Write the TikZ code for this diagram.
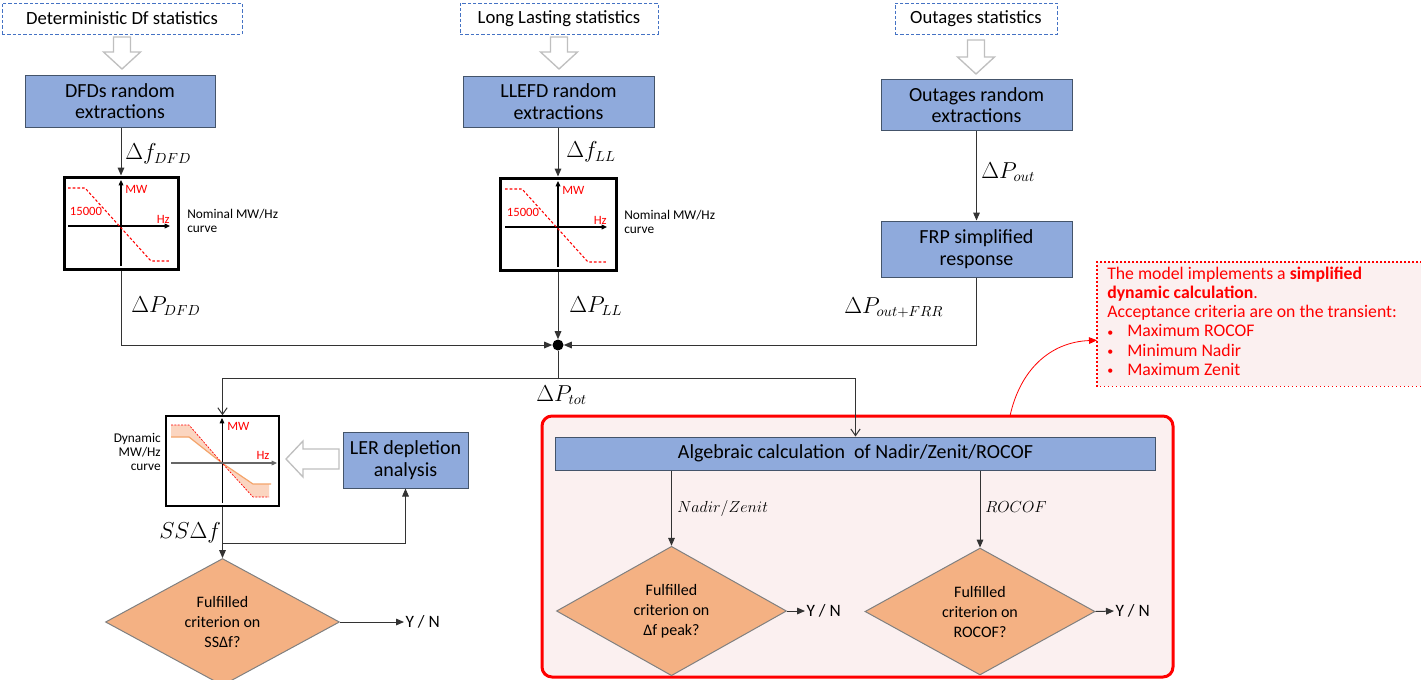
\documentclass[tikz,border=0pt]{standalone}
\usepackage{fontspec}
\setmainfont{Carlito}
\usetikzlibrary{arrows.meta,shapes.geometric,calc}
\definecolor{boxblue}{HTML}{8FAADC}
\definecolor{boxedge}{HTML}{44546A}
\definecolor{dsblue}{HTML}{4472C4}
\definecolor{diafill}{HTML}{F4B183}
\definecolor{diaedge}{HTML}{808080}
\definecolor{pinkfill}{HTML}{FBF0F0}
\definecolor{pured}{HTML}{FF0000}
\definecolor{bandfill}{HTML}{FBD5C0}
\definecolor{bandline}{HTML}{F4A46A}
\definecolor{hollowgray}{HTML}{BFBFBF}
\newcommand\hdown[3]{\draw[hollow] (#1-8.5,#2) -- (#1+8.5,#2) -- (#1+8.5,#3-17) -- (#1+18.5,#3-17) -- (#1,#3) -- (#1-18.5,#3-17) -- (#1-8.5,#3-17) -- cycle;}
\newcommand\smbul{\makebox[15pt][l]{\fontsize{9}{9}\selectfont\raisebox{0.5pt}{•}}}
\tikzset{
 dsbox/.style={draw=dsblue, dash pattern=on 2.5pt off 1.5pt, line width=0.75pt, fill=white, minimum height=31*.75pt, font=\fontsize{14}{16}\selectfont, inner sep=0pt},
 bluebox/.style={draw=boxedge, fill=boxblue, line width=0.75pt, align=center, font=\fontsize{15}{16.3}\selectfont, inner sep=0pt},
 curvebox/.style={draw=black, line width=2.25pt, fill=white, inner sep=0pt},
 thincurvebox/.style={draw=black, line width=1.1pt, fill=white, inner sep=0pt},
 dia/.style={diamond, draw=diaedge, fill=diafill, line width=0.75pt, align=center, font=\fontsize{12}{15}\selectfont, inner sep=0pt},
 conn/.style={draw=black!80, line width=0.75pt},
 arr/.style={conn, -{Triangle[length=6pt,width=5pt]}},
 openarr/.style={conn, -{Straight Barb[length=5pt,width=7pt]}},
 axisarr/.style={draw=black, line width=0.9pt, -{Triangle[length=4pt,width=3.5pt]}},
 mlab/.style={font=\fontsize{16}{18}\selectfont, inner sep=0pt, anchor=west},
 sublab/.style={font=\fontsize{12}{14}\selectfont, inner sep=0pt, anchor=west},
 redlbl/.style={text=pured, font=\fontsize{9.5}{11}\selectfont, inner sep=0pt},
 smalltxt/.style={font=\fontsize{10}{10.5}\selectfont, inner sep=0pt},
 yn/.style={font=\fontsize{13}{15}\selectfont, inner sep=1pt, anchor=west},
 hollow/.style={draw=hollowgray, fill=white, line width=1pt},
 redbox/.style={draw=pured, line width=2.25pt, fill=pinkfill, rounded corners=7.5pt, inner sep=0pt},
 callfill/.style={fill=pinkfill, inner sep=0pt},
 calltext/.style={text=pured, font=\fontsize{13.3}{14.3}\selectfont, inner sep=0pt, align=left},
}
\begin{document}
\begin{tikzpicture}[x=0.75pt,y=-0.75pt]
\useasboundingbox (0,0) rectangle (1421,679);
% top dashed boxes
\node[dsbox, minimum width=240*.75pt] (dsA) at (122,18.5) {Deterministic Df statistics};
\node[dsbox, minimum width=198*.75pt] (dsB) at (559,18.5) {Long Lasting statistics};
\node[dsbox, minimum width=162*.75pt] (dsC) at (976,18.5) {Outages statistics};
\hdown{122}{37}{69}
\hdown{559}{37}{69}
\hdown{976}{40}{74}
% blue boxes
\node[bluebox, minimum width=190*.75pt, minimum height=52*.75pt] (dfd) at (120,101) {DFDs random\\extractions};
\node[bluebox, minimum width=191*.75pt, minimum height=51*.75pt] (llefd) at (558.5,101.5) {LLEFD random\\extractions};
\node[bluebox, minimum width=191*.75pt, minimum height=51*.75pt] (outg) at (976.5,105) {Outages random\\extractions};
\node[bluebox, minimum width=191*.75pt, minimum height=56*.75pt] (frp) at (976.5,249) {FRP simplified\\response};
% nominal curve boxes
\node[curvebox, minimum width=114*.75pt, minimum height=92*.75pt] (c1) at (121,223) {};
\node[curvebox, minimum width=116*.75pt, minimum height=92*.75pt] (c2) at (558,224) {};
\foreach \ox/\oy in {121/226, 558/227}{
 \begin{scope}[shift={(\ox,\oy)}]
  \draw[axisarr] (0,40) -- (0,-46);
  \draw[axisarr] (-53,0) -- (49,0);
  \draw[pured, dash pattern=on 2pt off 1.5pt, line width=0.8pt] (-53,-38) -- (-36,-38) -- (30,35) -- (49,35);
  \node[redlbl, anchor=west] at (4,-37) {MW};
  \node[redlbl] at (-35,-15) {15000};
  \node[redlbl, anchor=east] at (49,-7) {Hz};
 \end{scope}
}
\node[smalltxt, anchor=west, align=left] (nom1) at (187,221) {Nominal MW/Hz\\curve};
\node[smalltxt, anchor=west, align=left] (nom2) at (624,222) {Nominal MW/Hz\\curve};
% junction
\node[circle, fill=black, minimum size=11*.75pt, inner sep=0pt] (jn) at (558,345) {};
% red calc box
\node[redbox, minimum width=631*.75pt, minimum height=261*.75pt] (calcbox) at (857.5,546.5) {};
\node[bluebox, minimum width=600*.75pt, minimum height=33*.75pt] (alg) at (855.5,453.5) {Algebraic calculation\ \ of Nadir/Zenit/ROCOF};
% dynamic curve box
\node[thincurvebox, minimum width=113*.75pt, minimum height=90*.75pt] (c3) at (222.5,461) {};
\begin{scope}[shift={(222,463)}]
 \fill[bandfill] (-51,-38) -- (-33,-38) -- (0,0) -- (-33,-26) -- (-51,-26) -- cycle;
 \fill[bandfill] (0,0) -- (31,34) -- (47,34) -- (47,21) -- (31,21) -- cycle;
 \draw[bandline, line width=0.9pt] (-51,-26) -- (-33,-26) -- (0,0) -- (31,21) -- (49,21);
 \draw[pured, dash pattern=on 1.5pt off 1pt, line width=0.5pt] (-51,-38) -- (-33,-38) -- (0,0) -- (31,34) -- (47,34);
 \draw[axisarr, line width=0.6pt] (0,40) -- (0,-45);
 \draw[axisarr, draw=black!60, line width=0.8pt] (-51,0) -- (55,0);
 \node[redlbl, anchor=west] at (5,-37) {MW};
 \node[redlbl] at (41,-8) {Hz};
\end{scope}
\node[smalltxt, anchor=east, align=right] (dynl) at (161,452) {Dynamic\\MW/Hz\\curve};
\node[bluebox, minimum width=125*.75pt, minimum height=56*.75pt] (ler) at (405.5,460) {LER depletion\\analysis};
\draw[hollow] (339,449) -- (303,449) -- (303,441) -- (286,459) -- (303,477) -- (303,469) -- (339,469) -- cycle;
% diamonds
\node[dia, minimum width=234*.75pt, minimum height=114*.75pt] (d1) at (222.5,622) {Fulfilled\\criterion on\\SSΔf?};
\node[dia, minimum width=230*.75pt, minimum height=114*.75pt] (d2) at (671.5,611) {Fulfilled\\criterion on\\Δf peak?};
\node[dia, minimum width=230*.75pt, minimum height=113*.75pt] (d3) at (980,611.5) {Fulfilled\\criterion on\\ROCOF?};
\node[yn] (yn1) at (404,622) {Y / N};
\node[yn] (yn2) at (805,611) {Y / N};
\node[yn] (yn3) at (1114,611) {Y / N};
% callout
\node[callfill, minimum width=324*.75pt, minimum height=124*.75pt, anchor=north west] (callout) at (1097,262) {};
\draw[pured, dotted, line width=1pt] (callout.north east) -- (callout.north west) -- (callout.south west) -- (callout.south east);
\node[calltext, anchor=north west] (ctext) at (1107,267) {The model implements a \textbf{simplified}\\\textbf{dynamic calculation}.\\Acceptance criteria are on the transient:\\\smbul Maximum ROCOF\\\smbul Minimum Nadir\\\smbul Maximum Zenit};
% connectors
\draw[arr] (c1.north |- dfd.south) -- (c1.north);
\draw[arr] (c2.north |- llefd.south) -- (c2.north);
\draw[arr] (outg.south) -- (frp.north);
\draw[arr] (c1.south) |- (jn.west);
\draw[arr] (c2.south) -- (jn.north);
\draw[arr] (frp.south) |- (jn.east);
\coordinate (split) at (558,378);
\draw[conn] (jn.south) -- (split);
\draw[openarr] (split) -| (c3.north);
\draw[openarr] (split) -| (alg.north);
\draw[arr] (c3.south) -- (d1.north);
\coordinate (br) at (222.5,543);
\draw[arr] (br) -| (ler.south);
\draw[arr] (alg.south -| d2.north) -- (d2.north);
\draw[arr] (alg.south -| d3.north) -- (d3.north);
\draw[arr] (d1.east) -- (yn1.west);
\draw[arr] (d2.east) -- (yn2.west);
\draw[arr] (d3.east) -- (yn3.west);
\coordinate (rstart) at (1010,416);
\draw[pured, line width=0.6pt, -{Triangle[length=6pt,width=5pt]}] (rstart) .. controls (1020,370) and (1050,342) .. ([yshift=-12pt]callout.west);
% math labels
\node[mlab] at (125,154) {$\Delta f_{DFD}$};
\node[mlab] at (566,152) {$\Delta f_{LL}$};
\node[mlab] at (981,172) {$\Delta P_{out}$};
\node[mlab] at (131,306) {$\Delta P_{DFD}$};
\node[mlab] at (569,306) {$\Delta P_{LL}$};
\node[mlab] at (844,308) {$\Delta P_{out+FRR}$};
\node[mlab] at (536,395) {$\Delta P_{tot}$};
\node[mlab] at (159,533) {$SS\Delta f$};
\node[sublab] at (677,508) {$Nadir/Zenit$};
\node[sublab] at (985,507) {$ROCOF$};
\end{tikzpicture}
\end{document}
